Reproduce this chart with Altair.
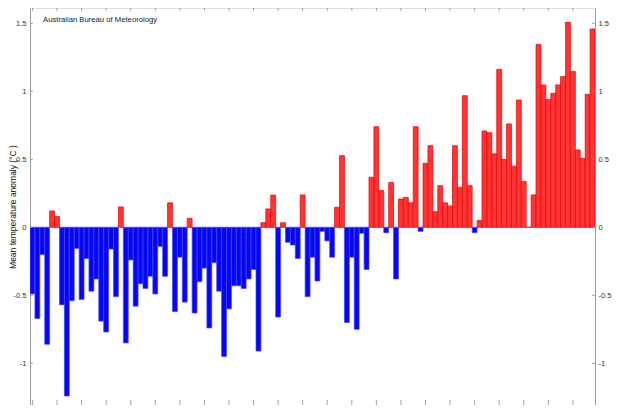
import altair as alt
import pandas as pd

# ---- data ----
years = list(range(1910, 2025))
anomaly = [
    -0.49, -0.67, -0.20, -0.86, 0.12, 0.08, -0.57, -1.24, -0.54, -0.155,   # 1910-1919
    -0.53, -0.23, -0.47, -0.38, -0.69, -0.77, -0.16, -0.51, 0.15, -0.85,   # 1920-1929
    -0.24, -0.58, -0.415, -0.45, -0.36, -0.49, -0.14, -0.36, 0.18, -0.62,  # 1930-1939
    -0.22, -0.55, 0.066, -0.63, -0.40, -0.30, -0.74, -0.26, -0.47, -0.95,  # 1940-1949
    -0.60, -0.43, -0.43, -0.45, -0.38, -0.31, -0.91, 0.034, 0.135, 0.237,  # 1950-1959
    -0.66, 0.034, -0.11, -0.13, -0.23, 0.238, -0.51, -0.22, -0.395, -0.03, # 1960-1969
    -0.10, -0.22, 0.147, 0.527, -0.70, -0.22, -0.75, -0.044, -0.31, 0.368, # 1970-1979
    0.74, 0.27, -0.04, 0.33, -0.38, 0.208, 0.22, 0.18, 0.74, -0.03,        # 1980-1989
    0.47, 0.60, 0.115, 0.306, 0.18, 0.157, 0.60, 0.294, 0.968, 0.306,      # 1990-1999
    -0.04, 0.05, 0.708, 0.696, 0.54, 1.16, 0.50, 0.76, 0.45, 0.936,        # 2000-2009
    0.336, 0.0, 0.238, 1.345, 1.047, 0.94, 0.985, 1.047, 1.108, 1.507,     # 2010-2019
    1.145, 0.569, 0.507, 0.978, 1.458,                                     # 2020-2024
]
tick_years = list(range(1910, 2025, 5))
y_ticks = [-1, -0.5, 0, 0.5, 1, 1.5]
annotation = "Australian Bureau of Meteorology"
y_title = "Mean temperature anomaly (°C )"

# ---- layout / style ----
PLOT_W, PLOT_H = 565, 397
XMIN, XMAX = 1909.5, 2024.5
YMIN, YMAX = -1.3066, 1.6125
PX_PER_UNIT_Y = 136.0
PX_PER_YEAR = PLOT_W / (XMAX - XMIN)
FONT = "Liberation Sans"
AXIS_GRAY = "#9a9a9a"
RED_FILL, RED_EDGE = "#ff3535", "#e60000"
BLUE_FILL, BLUE_EDGE = "#0606f6", "#4646ff"

df = pd.DataFrame({"year": years, "anomaly": anomaly})
df["x0"] = df["year"] - 0.5
df["x1"] = df["year"] + 0.5
df["base"] = 0.0
df["sign"] = ["pos" if v >= 0 else "neg" for v in df["anomaly"]]

xscale = alt.Scale(domain=[XMIN, XMAX], nice=False, zero=False)
yscale = alt.Scale(domain=[YMIN, YMAX], nice=False, zero=False)

label_expr = "'' + datum.value"

left_axis = alt.Axis(
    orient="left", values=y_ticks, ticks=False, grid=False,
    domainColor=AXIS_GRAY, domainWidth=1,
    labelFont=FONT, labelFontSize=7.5, labelColor="#333333", labelPadding=4,
    labelExpr=label_expr,
    title=y_title, titleFont=FONT, titleFontSize=8.5, titleFontWeight="normal",
    titleColor="#111111", titleX=-15, titleBaseline="alphabetic",
)
right_axis = alt.Axis(
    orient="right", values=y_ticks, ticks=False, grid=False,
    domainColor=AXIS_GRAY, domainWidth=1,
    labelFont=FONT, labelFontSize=7.5, labelColor="#333333", labelPadding=3,
    labelExpr=label_expr, title=None,
)

zero_line = alt.Chart(pd.DataFrame({"z": [0.0]})).mark_rule(
    color="#c8c8c8", strokeWidth=0.7
).encode(y=alt.Y("z:Q", scale=yscale, axis=right_axis))

bars = alt.Chart(df).mark_rect(clip=True, strokeWidth=0.7).encode(
    x=alt.X("x0:Q", scale=xscale, axis=None),
    x2="x1:Q",
    y=alt.Y("anomaly:Q", scale=yscale, axis=left_axis),
    y2="base:Q",
    fill=alt.Fill("sign:N", scale=alt.Scale(domain=["pos", "neg"], range=[RED_FILL, BLUE_FILL]), legend=None),
    stroke=alt.Stroke("sign:N", scale=alt.Scale(domain=["pos", "neg"], range=[RED_EDGE, BLUE_EDGE]), legend=None),
)

# inward tick marks (x: bottom and top, y: left and right)
xt = pd.DataFrame({"year": tick_years})
xt["b0"] = YMIN
xt["b1"] = YMIN + 5 / PX_PER_UNIT_Y
xt["t0"] = YMAX
xt["t1"] = YMAX - 3 / PX_PER_UNIT_Y
yt = pd.DataFrame({"v": y_ticks})
yt["l0"] = XMIN
yt["l1"] = XMIN + 3 / PX_PER_YEAR
yt["r0"] = XMAX - 3 / PX_PER_YEAR
yt["r1"] = XMAX

tick_style = dict(color="#8a8a8a", strokeWidth=0.8)
bottom_ticks = alt.Chart(xt).mark_rule(**tick_style).encode(
    x=alt.X("year:Q", scale=xscale, axis=None),
    y=alt.Y("b0:Q", scale=yscale, axis=None), y2="b1:Q")
top_ticks = alt.Chart(xt).mark_rule(**tick_style).encode(
    x=alt.X("year:Q", scale=xscale, axis=None),
    y=alt.Y("t0:Q", scale=yscale, axis=None), y2="t1:Q")
left_ticks = alt.Chart(yt).mark_rule(**tick_style).encode(
    x=alt.X("l0:Q", scale=xscale, axis=None), x2="l1:Q",
    y=alt.Y("v:Q", scale=yscale, axis=None))
right_ticks = alt.Chart(yt).mark_rule(**tick_style).encode(
    x=alt.X("r0:Q", scale=xscale, axis=None), x2="r1:Q",
    y=alt.Y("v:Q", scale=yscale, axis=None))

note = alt.Chart(pd.DataFrame({"t": [annotation]})).mark_text(
    align="left", baseline="middle", font=FONT, fontSize=7.7, color="#222222"
).encode(x=alt.value(13), y=alt.value(12), text="t:N")

chart = alt.layer(
    zero_line, bars, bottom_ticks, top_ticks, left_ticks, right_ticks, note
).resolve_axis(y="independent").properties(
    width=PLOT_W, height=PLOT_H,
    padding={"left": 22, "top": 0, "right": 17, "bottom": 0},
    autosize=alt.AutoSizeParams(type="none"),
).configure_view(stroke=None).configure(background="white")

chart.save("out.html", embed_options={"renderer": "svg", "actions": False})
